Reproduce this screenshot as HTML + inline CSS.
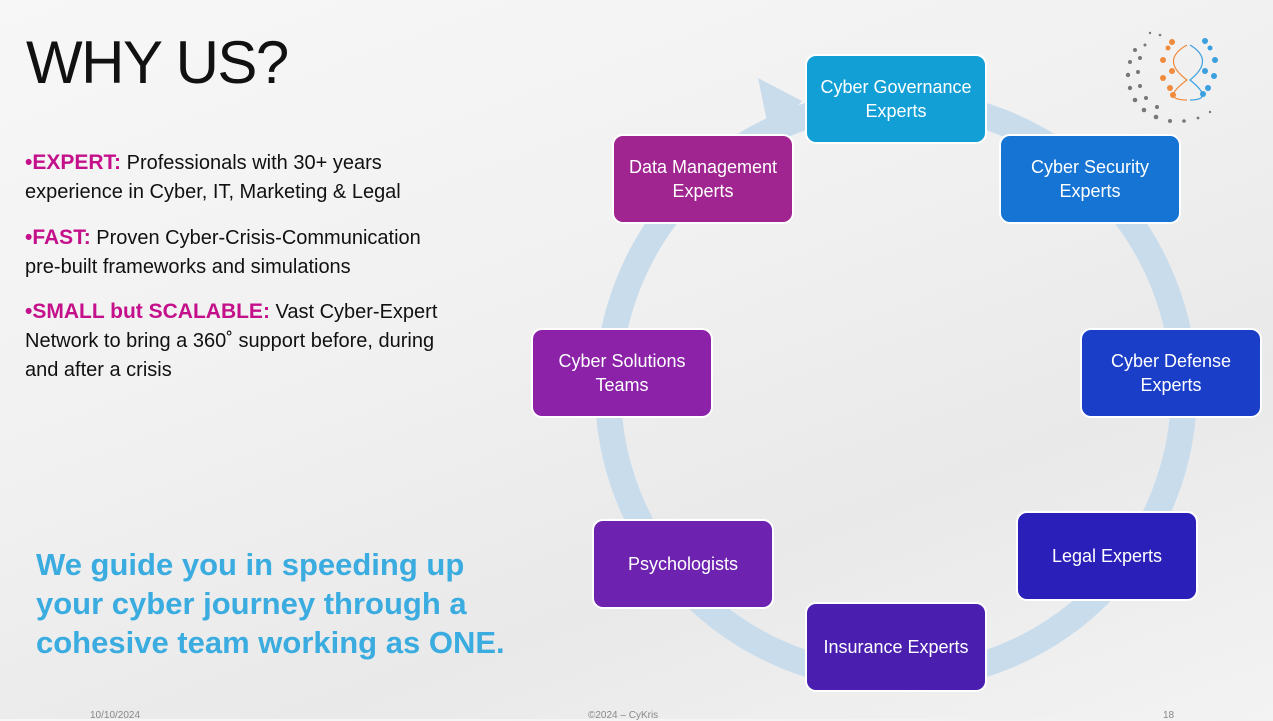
<!DOCTYPE html>
<html><head><meta charset="utf-8"><style>
body{margin:0;width:1273px;height:719px;overflow:hidden;font-family:"Liberation Sans",sans-serif;background:linear-gradient(160deg,#f7f7f7 0%,#f1f1f1 40%,#e9e9e9 70%,#f3f3f3 100%);position:relative}
.t{position:absolute;left:26px;top:28px;font-size:60px;color:#111;letter-spacing:-1.5px}
.b{position:absolute;left:25px;font-size:20px;line-height:29px;color:#111;white-space:nowrap}
.b span{color:#c4108a;font-weight:bold;font-size:21px}
.q{position:absolute;left:36px;top:545px;font-size:31px;line-height:39px;color:#3aace0;font-weight:bold;white-space:nowrap}
.n{position:absolute;width:178px;height:86px;border:2px solid #fff;border-radius:11px;color:#fff;font-size:18px;line-height:24px;display:flex;align-items:center;justify-content:center;text-align:center;box-sizing:content-box}
.f{position:absolute;top:710px;font-size:10px;color:#888}
</style></head><body>
<svg width="1273" height="719" style="position:absolute;left:0;top:0">
<circle cx="896" cy="390" r="288" fill="none" stroke="#c9dcec" stroke-width="26"/>
<polygon points="758,78 802,101 770,136" fill="#c9dcec"/>
<g fill="#777">
<circle cx="1135" cy="50" r="2"/><circle cx="1130" cy="62" r="2"/><circle cx="1128" cy="75" r="2.2"/><circle cx="1130" cy="88" r="2.2"/><circle cx="1135" cy="100" r="2.3"/><circle cx="1144" cy="110" r="2.3"/><circle cx="1156" cy="117" r="2.3"/><circle cx="1170" cy="121" r="2"/><circle cx="1184" cy="121" r="1.8"/><circle cx="1145" cy="45" r="1.5"/><circle cx="1140" cy="58" r="2"/><circle cx="1138" cy="72" r="2"/><circle cx="1140" cy="86" r="2"/><circle cx="1146" cy="98" r="2"/><circle cx="1157" cy="107" r="2"/><circle cx="1160" cy="35" r="1.3"/><circle cx="1150" cy="33" r="1.2"/><circle cx="1198" cy="118" r="1.4"/><circle cx="1210" cy="112" r="1.2"/>
</g>
<g stroke="#f08a3c" stroke-width="1.2" fill="none"><path d="M1187 45 Q1160 60 1187 80 Q1160 100 1187 100"/></g>
<g fill="#f08a3c"><circle cx="1172" cy="42" r="3"/><circle cx="1168" cy="48" r="2.5"/><circle cx="1163" cy="60" r="3"/><circle cx="1172" cy="71" r="3"/><circle cx="1163" cy="78" r="3"/><circle cx="1170" cy="88" r="3"/><circle cx="1173" cy="95" r="3"/></g>
<g stroke="#3aa0e0" stroke-width="1.2" fill="none"><path d="M1190 45 Q1215 60 1190 80 Q1215 100 1190 100"/></g>
<g fill="#3aa0e0"><circle cx="1205" cy="41" r="3"/><circle cx="1210" cy="48" r="2.5"/><circle cx="1215" cy="60" r="3"/><circle cx="1205" cy="71" r="3"/><circle cx="1214" cy="76" r="3"/><circle cx="1208" cy="88" r="3"/><circle cx="1203" cy="94" r="3"/></g>
</svg>
<div class="t">WHY US?</div>
<div class="b" style="top:148px"><span>•EXPERT:</span> Professionals with 30+ years<br>experience in Cyber, IT, Marketing &amp; Legal</div>
<div class="b" style="top:223px"><span>•FAST:</span> Proven Cyber-Crisis-Communication<br>pre-built frameworks and simulations</div>
<div class="b" style="top:297px"><span>•SMALL but SCALABLE:</span> Vast Cyber-Expert<br>Network to bring a 360˚ support before, during<br>and after a crisis</div>
<div class="q">We guide you in speeding up<br>your cyber journey through a<br>cohesive team working as ONE.</div>
<div class="n" style="left:805px;top:54px;background:#129fd6">Cyber Governance<br>Experts</div>
<div class="n" style="left:999px;top:134px;background:#1574d4">Cyber Security<br>Experts</div>
<div class="n" style="left:1080px;top:328px;background:#1a3ec8">Cyber Defense<br>Experts</div>
<div class="n" style="left:1016px;top:511px;background:#2a1fb8">Legal Experts</div>
<div class="n" style="left:805px;top:602px;background:#4a1fb0">Insurance Experts</div>
<div class="n" style="left:592px;top:519px;background:#6e22b0">Psychologists</div>
<div class="n" style="left:531px;top:328px;background:#8c22a8">Cyber Solutions<br>Teams</div>
<div class="n" style="left:612px;top:134px;background:#a02590">Data Management<br>Experts</div>
<div class="f" style="left:90px">10/10/2024</div>
<div class="f" style="left:588px">©2024 – CyKris</div>
<div class="f" style="left:1163px">18</div>
</body></html>
